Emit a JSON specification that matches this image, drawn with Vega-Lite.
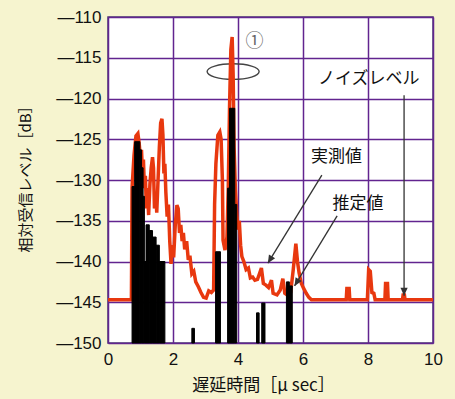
{
  "$schema": "https://vega.github.io/schema/vega-lite/v6.json",
  "width": 325,
  "height": 326,
  "autosize": {"type": "none"},
  "padding": {"left": 108, "top": 17, "right": 22, "bottom": 56},
  "background": "#f6f4cf",
  "config": {"view": {"stroke": "#4b3a70", "strokeWidth": 1.5, "fill": "#ffffff"}},
  "datasets": {
    "measured": [
      {"x": 0, "y": -144.7}, {"x": 0.72, "y": -144.7}, {"x": 0.74, "y": -131}, {"x": 0.8, "y": -127},
      {"x": 0.86, "y": -124.6}, {"x": 0.92, "y": -124.3}, {"x": 0.96, "y": -125.5}, {"x": 1.0, "y": -127.5},
      {"x": 1.03, "y": -126.3}, {"x": 1.06, "y": -129}, {"x": 1.09, "y": -127.5}, {"x": 1.12, "y": -131},
      {"x": 1.15, "y": -129.5}, {"x": 1.18, "y": -133.5}, {"x": 1.21, "y": -131}, {"x": 1.25, "y": -134.3},
      {"x": 1.29, "y": -130.5}, {"x": 1.33, "y": -128.5}, {"x": 1.37, "y": -127.2}, {"x": 1.4, "y": -128.5},
      {"x": 1.43, "y": -133.5}, {"x": 1.47, "y": -131.5}, {"x": 1.5, "y": -134}, {"x": 1.54, "y": -130},
      {"x": 1.58, "y": -126}, {"x": 1.62, "y": -123}, {"x": 1.66, "y": -122.5}, {"x": 1.69, "y": -124.5},
      {"x": 1.72, "y": -129.2}, {"x": 1.75, "y": -128}, {"x": 1.78, "y": -131.5}, {"x": 1.82, "y": -134.5},
      {"x": 1.86, "y": -133}, {"x": 1.9, "y": -137.5}, {"x": 1.94, "y": -140.3}, {"x": 1.98, "y": -138},
      {"x": 2.02, "y": -139.5}, {"x": 2.07, "y": -135.5}, {"x": 2.12, "y": -133.1}, {"x": 2.16, "y": -133.5},
      {"x": 2.2, "y": -136.5}, {"x": 2.24, "y": -135.5}, {"x": 2.28, "y": -137.5}, {"x": 2.32, "y": -136.5},
      {"x": 2.36, "y": -138.5}, {"x": 2.42, "y": -137.5}, {"x": 2.47, "y": -139.8}, {"x": 2.52, "y": -139.3},
      {"x": 2.58, "y": -141.5}, {"x": 2.64, "y": -141.2}, {"x": 2.7, "y": -142.5}, {"x": 2.78, "y": -143.1},
      {"x": 2.86, "y": -143.8}, {"x": 2.94, "y": -144.4}, {"x": 3.02, "y": -144.5}, {"x": 3.1, "y": -143.6},
      {"x": 3.18, "y": -143.8}, {"x": 3.25, "y": -143.5}, {"x": 3.28, "y": -133}, {"x": 3.32, "y": -128},
      {"x": 3.38, "y": -124.5}, {"x": 3.44, "y": -124.1}, {"x": 3.48, "y": -125}, {"x": 3.52, "y": -130},
      {"x": 3.54, "y": -137.4}, {"x": 3.6, "y": -138.6}, {"x": 3.66, "y": -137}, {"x": 3.7, "y": -131},
      {"x": 3.74, "y": -121}, {"x": 3.78, "y": -114}, {"x": 3.82, "y": -112.45}, {"x": 3.85, "y": -117},
      {"x": 3.88, "y": -126}, {"x": 3.92, "y": -131.2}, {"x": 3.96, "y": -134}, {"x": 4.0, "y": -136.1},
      {"x": 4.04, "y": -135}, {"x": 4.08, "y": -138}, {"x": 4.12, "y": -139.4}, {"x": 4.18, "y": -140},
      {"x": 4.25, "y": -141}, {"x": 4.32, "y": -140.8}, {"x": 4.38, "y": -142}, {"x": 4.45, "y": -141.9},
      {"x": 4.52, "y": -142.3}, {"x": 4.6, "y": -142.2}, {"x": 4.66, "y": -141.5}, {"x": 4.72, "y": -140.8},
      {"x": 4.78, "y": -142.7}, {"x": 4.86, "y": -142.9}, {"x": 4.94, "y": -143.2}, {"x": 5.03, "y": -142.3},
      {"x": 5.08, "y": -143.9}, {"x": 5.2, "y": -144.1}, {"x": 5.3, "y": -143.5}, {"x": 5.38, "y": -142.1},
      {"x": 5.44, "y": -143.9}, {"x": 5.55, "y": -144.2}, {"x": 5.62, "y": -143.8}, {"x": 5.7, "y": -141},
      {"x": 5.78, "y": -137.8}, {"x": 5.83, "y": -140}, {"x": 5.88, "y": -141.4}, {"x": 5.95, "y": -142.7},
      {"x": 6.02, "y": -143.3}, {"x": 6.1, "y": -143.9}, {"x": 6.18, "y": -144.4}, {"x": 6.26, "y": -144.7},
      {"x": 7.33, "y": -144.7}, {"x": 7.35, "y": -143.3}, {"x": 7.42, "y": -143.3}, {"x": 7.44, "y": -144.7},
      {"x": 7.98, "y": -144.7}, {"x": 8.02, "y": -141}, {"x": 8.07, "y": -141.2}, {"x": 8.12, "y": -143.8},
      {"x": 8.18, "y": -143.9}, {"x": 8.22, "y": -144.7}, {"x": 8.52, "y": -144.7}, {"x": 8.54, "y": -142.7},
      {"x": 8.6, "y": -142.7}, {"x": 8.62, "y": -144.7}, {"x": 9.06, "y": -144.7}, {"x": 9.08, "y": -144.1},
      {"x": 9.12, "y": -144.1}, {"x": 9.14, "y": -144.7}, {"x": 10, "y": -144.7}
    ],
    "estimated": [
      {"x0": 0.74, "x1": 0.82, "top": -130.8},
      {"x0": 0.82, "x1": 0.98, "top": -125.3},
      {"x0": 0.98, "x1": 1.03, "top": -126.3},
      {"x0": 1.03, "x1": 1.08, "top": -128.5},
      {"x0": 1.08, "x1": 1.12, "top": -132},
      {"x0": 1.12, "x1": 1.17, "top": -140},
      {"x0": 1.17, "x1": 1.27, "top": -135.5},
      {"x0": 1.27, "x1": 1.37, "top": -136.2},
      {"x0": 1.37, "x1": 1.48, "top": -137},
      {"x0": 1.48, "x1": 1.58, "top": -138},
      {"x0": 1.58, "x1": 1.75, "top": -140},
      {"x0": 2.58, "x1": 2.66, "top": -148.2},
      {"x0": 3.31, "x1": 3.46, "top": -138.8},
      {"x0": 3.68, "x1": 3.74, "top": -131},
      {"x0": 3.74, "x1": 3.9, "top": -121.2},
      {"x0": 3.9, "x1": 3.96, "top": -133},
      {"x0": 4.57, "x1": 4.65, "top": -146.3},
      {"x0": 4.73, "x1": 4.83, "top": -145.1},
      {"x0": 5.49, "x1": 5.58, "top": -142.5},
      {"x0": 5.58, "x1": 5.67, "top": -143}
    ],
    "arrows": [
      {"name": "jissoku", "x": 6.58, "y": -129.4, "x2": 4.92, "y2": -140.2},
      {"name": "suitei", "x": 7.05, "y": -134.4, "x2": 5.74, "y2": -143.0},
      {"name": "noise", "x": 9.11, "y": -119.6, "x2": 9.11, "y2": -144.2}
    ],
    "labels": [
      {"x": 8.02, "y": -117.6, "text": "ノイズレベル"},
      {"x": 7.03, "y": -127.2, "text": "実測値"},
      {"x": 7.69, "y": -132.9, "text": "推定値"}
    ],
    "marker": [
      {"x": 4.51, "y": -113.1, "text": "①", "ex": 3.85, "ey": -116.7}
    ]
  },
  "layer": [
    {
      "data": {"name": "marker"},
      "mark": {"type": "point", "shape": "M-1,0A1,0.3,0,1,0,1,0A1,0.3,0,1,0,-1,0Z", "filled": false, "stroke": "#444444", "strokeWidth": 1.4, "size": 2704, "opacity": 1},
      "encoding": {
        "x": {"field": "ex", "type": "quantitative", "scale": {"domain": [0, 10], "nice": false},
          "axis": {"values": [0, 2, 4, 6, 8, 10], "grid": true, "gridColor": "#62248f", "gridWidth": 1.5, "gridOpacity": 1,
            "ticks": false, "domain": false, "labelFlush": false, "labelFont": "Liberation Sans", "labelFontSize": 17,
            "labelColor": "#111111", "labelPadding": 8,
            "title": "遅延時間［μ sec］", "titleFont": "Noto Sans CJK JP", "titleFontSize": 17, "titleFontWeight": "normal",
            "titleColor": "#111111", "titleX": 155, "titleY": 42, "titleBaseline": "middle", "titleAlign": "center"}},
        "y": {"field": "ey", "type": "quantitative", "scale": {"domain": [-150, -110], "nice": false},
          "axis": {"values": [-150, -145, -140, -135, -130, -125, -120, -115, -110], "grid": true, "gridColor": "#62248f",
            "gridWidth": 1.5, "gridOpacity": 1, "ticks": false, "domain": false,
            "labelExpr": "'—' + abs(datum.value)", "labelFont": "Liberation Sans", "labelFontSize": 17,
            "labelColor": "#111111", "labelPadding": 7,
            "title": "相対受信レベル［dB］", "titleFont": "Noto Sans CJK JP", "titleFontSize": 15, "titleFontWeight": "normal",
            "titleColor": "#111111", "titleX": -83, "titleY": 158, "titleAngle": -90, "titleBaseline": "middle", "titleAlign": "center"}}
      }
    },
    {
      "data": {"name": "measured"},
      "mark": {"type": "line", "color": "#e8380f", "strokeWidth": 3.5, "strokeJoin": "miter"},
      "encoding": {
        "x": {"field": "x", "type": "quantitative"},
        "y": {"field": "y", "type": "quantitative"}
      }
    },
    {
      "data": {"name": "estimated"},
      "mark": {"type": "bar", "color": "#000000", "stroke": "#000000", "strokeWidth": 1},
      "encoding": {
        "x": {"field": "x0", "type": "quantitative"},
        "x2": {"field": "x1"},
        "y": {"field": "top", "type": "quantitative"},
        "y2": {"datum": -150}
      }
    },
    {
      "data": {"name": "arrows"},
      "mark": {"type": "rule", "color": "#333333", "strokeWidth": 1.3},
      "encoding": {
        "x": {"field": "x", "type": "quantitative"},
        "y": {"field": "y", "type": "quantitative"},
        "x2": {"field": "x2"},
        "y2": {"field": "y2"}
      }
    },
    {
      "data": {"name": "arrows"},
      "transform": [{"filter": "datum.name != 'noise'"}],
      "mark": {"type": "point", "shape": "M0,0L-0.45,-1L0.45,-1Z", "filled": true, "color": "#333333", "size": 256, "angle": 31, "opacity": 1},
      "encoding": {
        "x": {"field": "x2", "type": "quantitative"},
        "y": {"field": "y2", "type": "quantitative"}
      }
    },
    {
      "data": {"name": "arrows"},
      "transform": [{"filter": "datum.name == 'noise'"}],
      "mark": {"type": "point", "shape": "M0,0L-0.45,-1L0.45,-1Z", "filled": true, "color": "#333333", "size": 256, "angle": 0, "opacity": 1},
      "encoding": {
        "x": {"field": "x2", "type": "quantitative"},
        "y": {"field": "y2", "type": "quantitative"}
      }
    },
    {
      "data": {"name": "labels"},
      "mark": {"type": "text", "font": "Noto Sans CJK JP", "fontSize": 17, "color": "#111111", "align": "center", "baseline": "middle"},
      "encoding": {
        "x": {"field": "x", "type": "quantitative"},
        "y": {"field": "y", "type": "quantitative"},
        "text": {"field": "text"}
      }
    },
    {
      "data": {"name": "marker"},
      "mark": {"type": "text", "font": "Noto Sans CJK JP", "fontSize": 18, "color": "#666666", "align": "center", "baseline": "middle"},
      "encoding": {
        "x": {"field": "x", "type": "quantitative"},
        "y": {"field": "y", "type": "quantitative"},
        "text": {"field": "text"}
      }
    }
  ]
}
